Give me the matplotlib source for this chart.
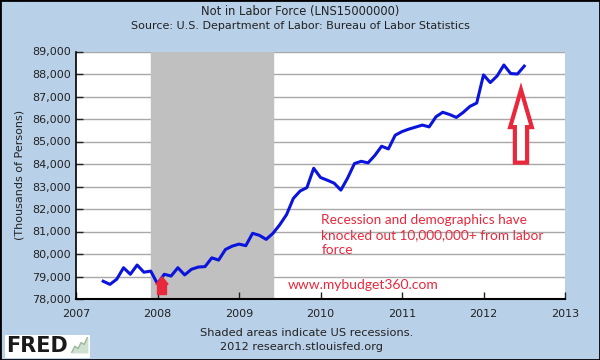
import matplotlib
matplotlib.use('Agg')
import matplotlib.pyplot as plt
from matplotlib.patches import Polygon, Rectangle
from matplotlib.ticker import FuncFormatter

# monthly values, May 2007 .. Jul 2012 (thousands of persons)
start_year = 2007
start_month = 5
values = [78790, 78650, 78880, 79390, 79100, 79510, 79190, 79240,
          78680, 79100, 79020, 79390, 79070, 79320, 79420, 79440,
          79830, 79730, 80200, 80350, 80440, 80370, 80920, 80830,
          80650, 80920, 81300, 81750, 82470, 82800, 82950, 83810,
          83400, 83280, 83150, 82840, 83380, 84020, 84120, 84050,
          84380, 84790, 84670, 85280, 85440, 85550, 85640, 85730,
          85650, 86100, 86300, 86200, 86070, 86290, 86560, 86710,
          87960, 87620, 87910, 88400, 88020, 88000, 88350]
recession = (2007 + 11 / 12, 2009 + 5 / 12)
year_ticks = [2007, 2008, 2009, 2010, 2011, 2012, 2013]
value_ticks = list(range(78000, 89001, 1000))

title = 'Not in Labor Force (LNS15000000)'
subtitle = 'Source: U.S. Department of Labor: Bureau of Labor Statistics'
ylabel = '(Thousands of Persons)'
note = 'Recession and demographics have\nknocked out 10,000,000+ from labor\nforce'
site = 'www.mybudget360.com'
footer1 = 'Shaded areas indicate US recessions.'
footer2 = '2012 research.stlouisfed.org'

bg = '#b8d0e8'
red = '#e8283c'


def main():
    x = [start_year + (start_month - 1 + i) / 12 for i in range(len(values))]

    fig = plt.figure(figsize=(6, 3.6), dpi=100, facecolor=bg)
    fig.patches.append(Rectangle((0, 0), 1, 1, transform=fig.transFigure,
                                 fill=False, edgecolor='black', linewidth=2))
    ax = fig.add_axes([76 / 600, 61 / 360, 489 / 600, 247.5 / 360])
    ax.set_facecolor('white')

    ax.axvspan(recession[0], recession[1], color='#c0c0c0', zorder=1)
    for v in value_ticks[1:]:
        ax.axhline(v, color='#a8a8a8', linewidth=1, zorder=0.5)
    ax.plot(x, values, color='#0a14dc', linewidth=2.2, zorder=3)

    ax.set_xlim(2007, 2013)
    ax.set_ylim(78000, 89000)
    ax.set_xticks(year_ticks)
    ax.set_yticks(value_ticks)
    ax.yaxis.set_major_formatter(FuncFormatter(lambda v, p: '{:,.0f}'.format(v)))
    ax.tick_params(direction='in', length=5, labelsize=8, colors='#222222',
                   width=1)
    ax.tick_params(axis='x', pad=7)
    for s in ['top', 'right']:
        ax.spines[s].set_visible(False)
    ax.spines['left'].set_linewidth(1.2)
    ax.spines['bottom'].set_linewidth(1.5)
    ax.set_ylabel(ylabel, fontsize=8, color='#222222', labelpad=6)

    # small filled arrow near 2008
    ax.add_patch(Polygon([(2008.055, 78990), (2008.13, 78650), (2008.11, 78650),
                          (2008.11, 78200), (2008.0, 78200), (2008.0, 78650),
                          (1.0 * 2007.98, 78650)],
                         closed=True, facecolor=red, edgecolor=red, zorder=4))
    # big hollow arrow
    ax.add_patch(Polygon([(2012.46, 87300), (2012.593, 85640), (2012.535, 85640),
                          (2012.535, 84060), (2012.385, 84060), (2012.385, 85640),
                          (2012.327, 85640)],
                         closed=True, facecolor='white', edgecolor=red,
                         linewidth=3, zorder=4))

    ax.text(2010.01, 81780, note, color=red, fontsize=9.8, family='Lato',
            va='top', linespacing=1.3, zorder=5)
    ax.text(2009.6, 78620, site, color=red, fontsize=10, family='Lato',
            va='center', zorder=5)

    fig.text(0.5, 1 - 12 / 360, title, ha='center', va='center', fontsize=8.3,
             color='#222222')
    fig.text(0.5, 1 - 26 / 360, subtitle, ha='center', va='center', fontsize=8,
             color='#222222')
    fig.text(306.5 / 600, 1 - 333 / 360, footer1, ha='center', va='center',
             fontsize=8.2, color='#222222')
    fig.text(302 / 600, 1 - 347 / 360, footer2, ha='center', va='center',
             fontsize=8.2, color='#222222')

    # FRED logo
    fig.patches.append(Rectangle((5 / 600, 2 / 360), 85 / 600, 23 / 360,
                                 transform=fig.transFigure, facecolor='white',
                                 edgecolor='none', zorder=1))
    fig.text(6 / 600, 1 - 346 / 360, 'FRED', fontsize=15, fontweight='heavy',
             color='#1a1a1a', va='center', family='DejaVu Sans', zorder=3)
    icon = fig.add_axes([71 / 600, 7 / 360, 17 / 600, 16 / 360])
    icon.set_zorder(2)
    icon.plot([0, 1, 2, 3, 4, 5], [0, 1, 0.6, 1.6, 1.3, 2.4], color='#9ab89a',
              linewidth=1)
    icon.fill_between([0, 1, 2, 3, 4, 5], [0, 1, 0.6, 1.6, 1.3, 2.4],
                      color='#d0e0d0')
    icon.set_axis_off()

    fig.savefig('out.png', dpi=100, facecolor=bg)


if __name__ == '__main__':
    main()
